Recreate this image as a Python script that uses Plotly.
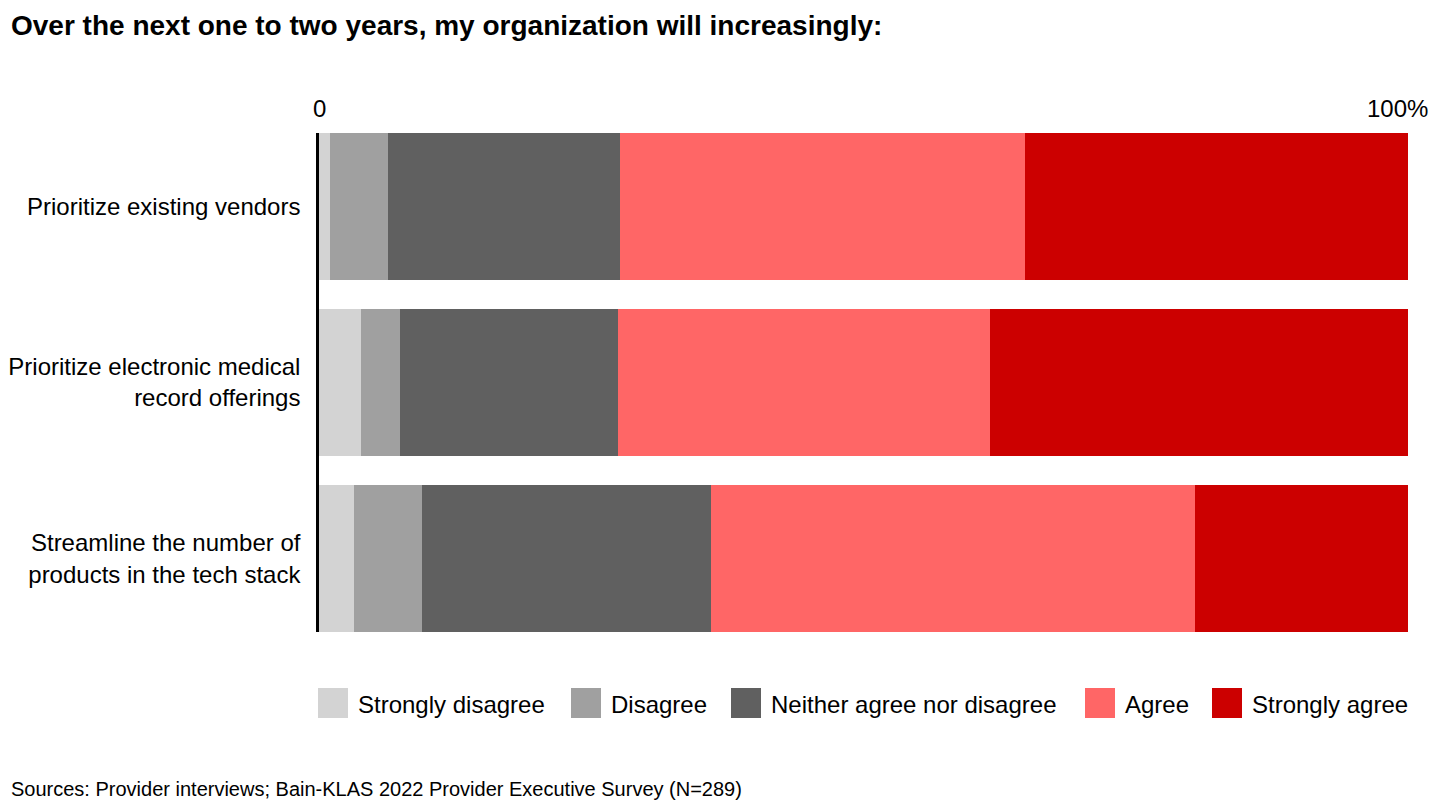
import plotly.graph_objects as go

categories = ["Prioritize existing vendors",
              "Prioritize electronic medical<br>record offerings",
              "Streamline the number of<br>products in the tech stack"]
series_names = ["Strongly disagree", "Disagree", "Neither agree nor disagree", "Agree", "Strongly agree"]
strongly_disagree = [1.0, 3.9, 3.2]
disagree = [5.3, 3.5, 6.3]
neither = [21.3, 20.1, 26.5]
agree = [37.2, 34.1, 44.4]
strongly_agree = [35.2, 38.4, 19.6]
colors = ["#d3d3d3", "#a0a0a0", "#606060", "#ff6666", "#cc0000"]
x_tick_vals = [0, 100]
x_tick_text = ["0", "100%"]

values = [strongly_disagree, disagree, neither, agree, strongly_agree]

fig = go.Figure()
for name, vals, col in zip(series_names, values, colors):
    fig.add_trace(go.Bar(y=categories, x=vals, name=name, orientation="h",
                         marker=dict(color=col, line=dict(width=0)),
                         width=0.835, showlegend=False))

font = "Liberation Sans, Arial, sans-serif"
# page offset of 8px (body margin); plot area on page: x 319..1408, y 133..632
PW, PH = 1089, 499
fig.update_layout(
    barmode="stack",
    width=1424, height=794,
    margin=dict(l=311, r=24, t=125, b=170, autoexpand=False),
    plot_bgcolor="white", paper_bgcolor="white",
    font=dict(family=font, size=24, color="black"),
    xaxis=dict(range=[0, 100], side="top", tickvals=x_tick_vals,
               showticklabels=False,
               showgrid=False, zeroline=False, showline=False, ticks="",
               automargin=False),
    yaxis=dict(autorange=False, range=[2.4175, -0.4175], showgrid=False, zeroline=False,
               showline=True, linecolor="black", linewidth=2.5, ticks="",
               tickfont=dict(size=24), ticklabelstandoff=11, automargin=False),
)

def px(xp):
    return (xp - 319) / PW

def py(yp):
    return (632 - yp) / PH

# x-axis tick labels placed at the axis values (last one kept inside the page)
for i, (tv, tt) in enumerate(zip(x_tick_vals, x_tick_text)):
    last = i == len(x_tick_vals) - 1
    fig.add_annotation(text=tt, xref="x", yref="paper", x=tv, y=py(109),
                       xanchor="right" if last else "center", yanchor="middle",
                       xshift=22 if last else 0, showarrow=False,
                       font=dict(size=24, family=font))

fig.add_annotation(text="<b>Over the next one to two years, my organization will increasingly:</b>",
                   xref="paper", yref="paper", x=px(8), y=py(25), xshift=1,
                   xanchor="left", yanchor="middle", showarrow=False,
                   font=dict(size=28, family=font))
fig.add_annotation(text="Sources: Provider interviews; Bain-KLAS 2022 Provider Executive Survey (N=289)",
                   xref="paper", yref="paper", x=px(8), y=py(789), xshift=1,
                   xanchor="left", yanchor="middle", showarrow=False,
                   font=dict(size=20, family=font))

# custom legend
leg_x = [318, 571, 731, 1085, 1212]
for name, col, lx in zip(series_names, colors, leg_x):
    fig.add_shape(type="rect", xref="paper", yref="paper",
                  x0=px(lx), x1=px(lx + 30), y0=py(718), y1=py(688),
                  fillcolor=col, line=dict(width=0))
    fig.add_annotation(text=name, xref="paper", yref="paper",
                       x=px(lx + 38), y=py(704),
                       xanchor="left", yanchor="middle", showarrow=False,
                       font=dict(size=24, family=font))

fig.write_html("out.html")
